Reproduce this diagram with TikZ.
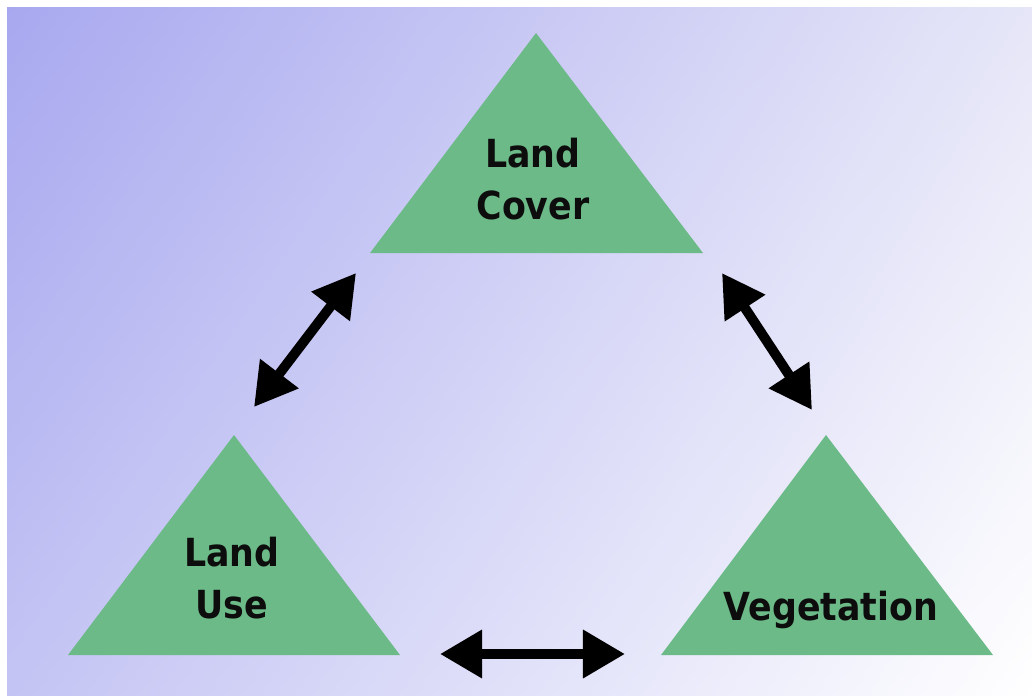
\documentclass[tikz,border=0pt]{standalone}
\usepackage{fontspec}
\newfontfamily\lblfont{DejaVu Sans Condensed Bold}
\usetikzlibrary{arrows.meta,shadings}
\definecolor{tgreen}{RGB}{108,186,136}
\definecolor{bgblue}{RGB}{168,168,240}
\definecolor{bgtop}{RGB}{230,230,248}
\definecolor{bgbot}{RGB}{196,196,244}

\begin{document}
\begin{tikzpicture}[x=0.025cm,y=-0.025cm,
  tri/.style={fill=tgreen},
  lbl/.style={font=\lblfont\fontsize{27.5}{37}\selectfont,align=center,inner sep=0pt,text=black!95},
  dbl/.style={line width=7pt,{Triangle[width=11.5mm,length=10.5mm]}-{Triangle[width=11.5mm,length=10.5mm]}}]
  \useasboundingbox (0,0) rectangle (1032,696);
  % Background
  \shade[upper left=bgblue,upper right=bgtop,lower left=bgbot,lower right=white] (7,8) rectangle (1032,696);
  % Triangles
  \fill[tri] (536,33) -- (703,253) -- (370,253) -- cycle;
  \fill[tri] (234,435) -- (400,655) -- (68,655) -- cycle;
  \fill[tri] (826,435) -- (993,655) -- (661,655) -- cycle;
  % Labels
  \node[lbl] (cover) at (533,179) {Land\\Cover};
  \node[lbl] (use) at (232,578) {Land\\Use};
  \node[lbl,anchor=base] (veg) at (831,620) {Vegetation};
  % Arrow ends
  \coordinate (cl) at (356,273);
  \coordinate (ul) at (254,407);
  \coordinate (cr) at (722,273);
  \coordinate (vr) at (812,410);
  \coordinate (ub) at (440,654);
  \coordinate (vb) at (625,654);
  % Arrows
  \draw[dbl] (cl) -- (ul);
  \draw[dbl] (cr) -- (vr);
  \draw[dbl] (ub) -- (vb);
\end{tikzpicture}
\end{document}
